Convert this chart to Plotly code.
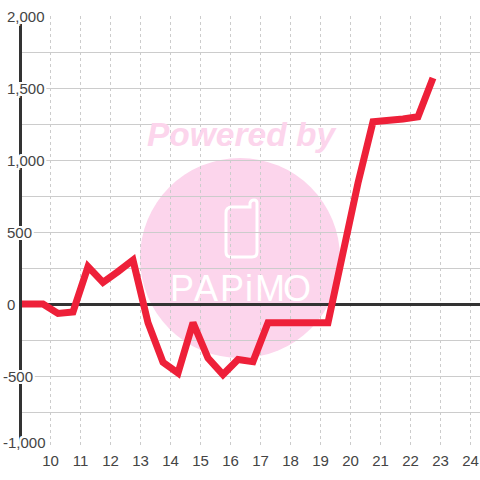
import plotly.graph_objects as go

hours = [8.9, 9.25, 9.75, 10.25, 10.75, 11.25, 11.75, 12.25, 12.75, 13.25, 13.75, 14.25, 14.75, 15.25, 15.75,
         16.25, 16.75, 17.25, 17.75, 18.25, 18.75, 19.25, 19.75, 20.25, 20.75, 21.25, 21.75, 22.25, 22.75]
values = [0, 0, 0, -65, -55, 260, 150, 225, 305, -130, -405, -480, -130, -375, -490,
          -385, -400, -130, -130, -130, -130, -130, 355, 840, 1265, 1270, 1285, 1300, 1570]
x_ticks = list(range(10, 25))
y_tick_vals = [2000, 1500, 1000, 500, 0, -500, -1000]
y_tick_text = ["2,000", "1,500", "1,000", "500", "0", "-500", "-1,000"]

W, H = 480, 480
L, T, B = 22, 16, 32
FONT = "Liberation Sans, Arial, sans-serif"
TEXT = "#444444"
GRID = "#cccccc"
DARK = "#333333"
PINK = "#fcd5ec"
HALO = ",".join(f"{a}px {b}px 0 #fff" for a, b in
                [(2, 0), (-2, 0), (0, 2), (0, -2), (2, 2), (-2, 2), (2, -2), (-2, -2), (1, 2), (-1, 2), (1, -2), (-1, -2)])


def px(v):
    return (v - L) / (W - L)


def py(v):
    return 1 - (v - T) / (H - T - B)


fig = go.Figure(go.Scatter(x=hours, y=values, mode="lines", cliponaxis=False,
                           line=dict(color="#ee2039", width=7), hoverinfo="skip"))

phone = (f"M {px(232)} {py(207)} L {px(250)} {py(207)} L {px(250)} {py(203)} "
         f"Q {px(251)} {py(200)} {px(254)} {py(200)} Q {px(257)} {py(200)} {px(257)} {py(203)} "
         f"L {px(257)} {py(252)} Q {px(257)} {py(257)} {px(252)} {py(257)} "
         f"L {px(231)} {py(257)} Q {px(226)} {py(257)} {px(226)} {py(252)} "
         f"L {px(226)} {py(213)} Q {px(226)} {py(207)} {px(232)} {py(207)} Z")

shapes = [
    dict(type="circle", xref="paper", yref="paper", layer="below",
         x0=px(140), x1=px(340), y0=py(358), y1=py(158), fillcolor=PINK, line_width=0),
    dict(type="path", xref="paper", yref="paper", layer="below", path=phone,
         line=dict(color="#ffffff", width=3)),
]

annotations = []
for v, t in zip(y_tick_vals, y_tick_text):
    annotations.append(dict(xref="paper", yref="y", x=px(2 if t.startswith("-") else 6), y=v,
                            yshift=6 if v == -1000 else 0,
                            text=t, showarrow=False, xanchor="left", yanchor="middle", borderpad=0,
                            font=dict(family=FONT, size=15, color=TEXT, shadow=HALO)))

annotations.append(dict(xref="paper", yref="paper", x=px(242), y=py(134), text="<b><i>Powered by</i></b>",
                        showarrow=False, xanchor="center", yanchor="middle",
                        font=dict(family=FONT, size=33.5, color=PINK)))

for ch, cx in zip("PAPiMO", [182, 206, 232, 249, 270, 297]):
    annotations.append(dict(xref="paper", yref="paper", x=px(cx), y=py(288), text=ch,
                            showarrow=False, xanchor="center", yanchor="middle",
                            font=dict(family=FONT, size=36, color="#ffffff")))

fig.update_layout(
    width=W, height=H, margin=dict(l=L, r=0, t=T, b=B, pad=0, autoexpand=False),
    paper_bgcolor="rgba(0,0,0,0)", plot_bgcolor="rgba(0,0,0,0)", showlegend=False,
    shapes=shapes, annotations=annotations,
    xaxis=dict(range=[9.05, 24.317], tickmode="array", tickvals=x_ticks, ticktext=[str(x) for x in x_ticks],
               showgrid=True, gridcolor=GRID, gridwidth=1, griddash="3px,3px", zeroline=False,
               showline=False, ticks="", ticklabelstandoff=2, tickfont=dict(family=FONT, size=15, color=TEXT)),
    yaxis=dict(range=[-1000, 2000], tick0=0, dtick=250, showgrid=True, gridcolor=GRID, gridwidth=1,
               zeroline=True, zerolinecolor=DARK, zerolinewidth=3,
               showline=True, linecolor=DARK, linewidth=3, showticklabels=False, ticks=""),
)

fig.write_html("out.html", config=dict(displayModeBar=False),
               post_script="document.body.style.margin='0';")
